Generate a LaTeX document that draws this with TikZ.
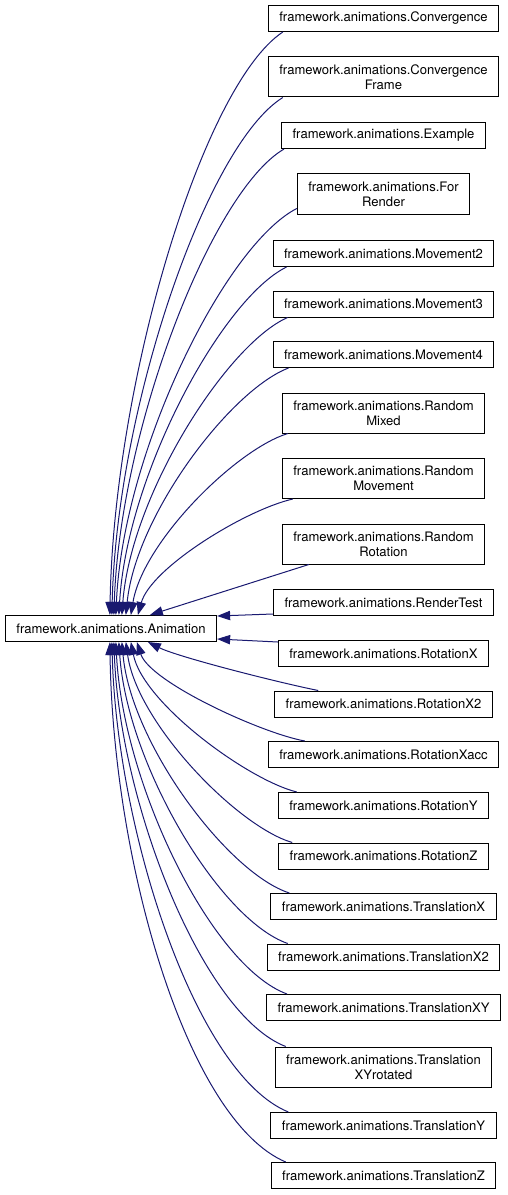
\documentclass[tikz,border=0pt]{standalone}
\usepackage{fontspec}
\setmainfont{TeX Gyre Heros}
\usepackage{tikz}
\usetikzlibrary{arrows.meta, calc}
\definecolor{edgeblue}{HTML}{191970}
\newcommand{\boxfont}{\fontsize{9.8}{11.25}\selectfont}
\tikzset{
	classnode/.style={
			draw=black,
			fill=white,
			line width=0.75pt,
			inner xsep=8.25pt,
			inner ysep=0pt,
			minimum height=19.5pt,
			align=center,
			font=\boxfont
		},
	tallnode/.style={
			classnode,
			minimum height=30pt
		},
	edgeline/.style={
			draw=edgeblue,
			line width=0.75pt
		}
}

\begin{document}
\begin{tikzpicture}[x=0.75pt, y=-0.75pt, >={Triangle[length=9.75pt, width=7pt]}]
\useasboundingbox (0,0) rectangle (507,1195);

\node[classnode] (nAnim) at (111,628.5) {framework.animations.Animation};

\node[classnode] (nConv) at (383.5,18.5) {framework.animations.Convergence};
\node[tallnode] (nConvFrame) at (383.5,77) {framework.animations.Convergence\\Frame};
\node[classnode] (nExample) at (383.5,135.5) {framework.animations.Example};
\node[tallnode] (nForRender) at (383.5,194) {framework.animations.For\\Render};
\node[classnode] (nMove2) at (383.5,253.5) {framework.animations.Movement2};
\node[classnode] (nMove3) at (383.5,304) {framework.animations.Movement3};
\node[classnode] (nMove4) at (383.5,354.5) {framework.animations.Movement4};
\node[tallnode] (nRandMixed) at (383.5,413) {framework.animations.Random\\Mixed};
\node[tallnode] (nRandMove) at (383.5,478.5) {framework.animations.Random\\Movement};
\node[tallnode] (nRandRot) at (383.5,544) {framework.animations.Random\\Rotation};
\node[classnode] (nRenderTest) at (383.5,602.5) {framework.animations.RenderTest};
\node[classnode] (nRotX) at (383.5,653.5) {framework.animations.RotationX};
\node[classnode] (nRotX2) at (383.5,704) {framework.animations.RotationX2};
\node[classnode] (nRotXacc) at (383.5,754.5) {framework.animations.RotationXacc};
\node[classnode] (nRotY) at (383.5,805.5) {framework.animations.RotationY};
\node[classnode] (nRotZ) at (383.5,856) {framework.animations.RotationZ};
\node[classnode] (nTransX) at (383.5,906.5) {framework.animations.TranslationX};
\node[classnode] (nTransX2) at (383.5,957) {framework.animations.TranslationX2};
\node[classnode] (nTransXY) at (383.5,1007.5) {framework.animations.TranslationXY};
\node[tallnode] (nTransXYrot) at (383.5,1067) {framework.animations.Translation\\XYrotated};
\node[classnode] (nTransY) at (383.5,1125.5) {framework.animations.TranslationY};
\node[classnode] (nTransZ) at (383.5,1175.5) {framework.animations.TranslationZ};

% edges above the base class
\draw[edgeline, <-] ($(nAnim.north west)+(105,0)$) .. controls +(4,-234) and +(-80,53) .. ($(nConv.south west)+(15,0)$);
\draw[edgeline, <-] ($(nAnim.north west)+(107,0)$) .. controls +(5,-208) and +(-76,47) .. ($(nConvFrame.south west)+(15,0)$);
\draw[edgeline, <-] ($(nAnim.north west)+(109,0)$) .. controls +(6,-187) and +(-72,42) .. ($(nExample.south west)+(3,0)$);
\draw[edgeline, <-] ($(nAnim.north west)+(111,0)$) .. controls +(7,-163) and +(-72,37) .. ($(nForRender.south west)+(0,-6)$);
\draw[edgeline, <-] ($(nAnim.north west)+(114,0)$) .. controls +(8,-140) and +(-65,32) .. ($(nMove2.south west)+(14,0)$);
\draw[edgeline, <-] ($(nAnim.north west)+(117,0)$) .. controls +(9,-120) and +(-61,27) .. ($(nMove3.south west)+(15,0)$);
\draw[edgeline, <-] ($(nAnim.north west)+(121,0)$) .. controls +(10,-100) and +(-58,22) .. ($(nMove4.south west)+(16,0)$);
\draw[edgeline, <-] ($(nAnim.north west)+(126,0)$) .. controls +(12,-73) and +(-52,16) .. ($(nRandMixed.south west)+(6,0)$);
\draw[edgeline, <-] ($(nAnim.north west)+(133,0)$) .. controls +(13,-47) and +(-48,11) .. ($(nRandMove.south west)+(11,0)$);
\draw[edgeline, <-] ($(nAnim.north west)+(145,0)$) -- ($(nRandRot.south west)+(27,0)$);
\draw[edgeline, <-] ($(nAnim.north east)+(0,1)$) -- ($(nRenderTest.south west)+(0,-2)$);

% edges below the base class
\draw[edgeline, <-] ($(nAnim.south east)+(0,-3)$) -- ($(nRotX.north west)+(0,2)$);
\draw[edgeline, <-] ($(nAnim.south west)+(143,0)$) .. controls +(30,15) and +(-40,-8) .. ($(nRotX2.north west)+(44,0)$);
\draw[edgeline, <-] ($(nAnim.south west)+(132,0)$) .. controls +(13,40) and +(-44,-8) .. ($(nRotXacc.north west)+(37,0)$);
\draw[edgeline, <-] ($(nAnim.south west)+(126,0)$) .. controls +(12,61) and +(-49,-12) .. ($(nRotY.north west)+(19,0)$);
\draw[edgeline, <-] ($(nAnim.south west)+(121,0)$) .. controls +(11,81) and +(-55,-16) .. ($(nRotZ.north west)+(14,0)$);
\draw[edgeline, <-] ($(nAnim.south west)+(117,0)$) .. controls +(9,101) and +(-62,-20) .. ($(nTransX.north west)+(19,0)$);
\draw[edgeline, <-] ($(nAnim.south west)+(114,0)$) .. controls +(8,121) and +(-69,-24) .. ($(nTransX2.north west)+(21,0)$);
\draw[edgeline, <-] ($(nAnim.south west)+(111,0)$) .. controls +(7,142) and +(-76,-28) .. ($(nTransXY.north west)+(21,0)$);
\draw[edgeline, <-] ($(nAnim.south west)+(109,0)$) .. controls +(6,162) and +(-83,-32) .. ($(nTransXYrot.north west)+(11,0)$);
\draw[edgeline, <-] ($(nAnim.south west)+(107,0)$) .. controls +(5,189) and +(-93,-38) .. ($(nTransY.north west)+(18,0)$);
\draw[edgeline, <-] ($(nAnim.south west)+(105,0)$) .. controls +(3,220) and +(-99,-42) .. ($(nTransZ.north west)+(15,0)$);

\end{tikzpicture}
\end{document}
